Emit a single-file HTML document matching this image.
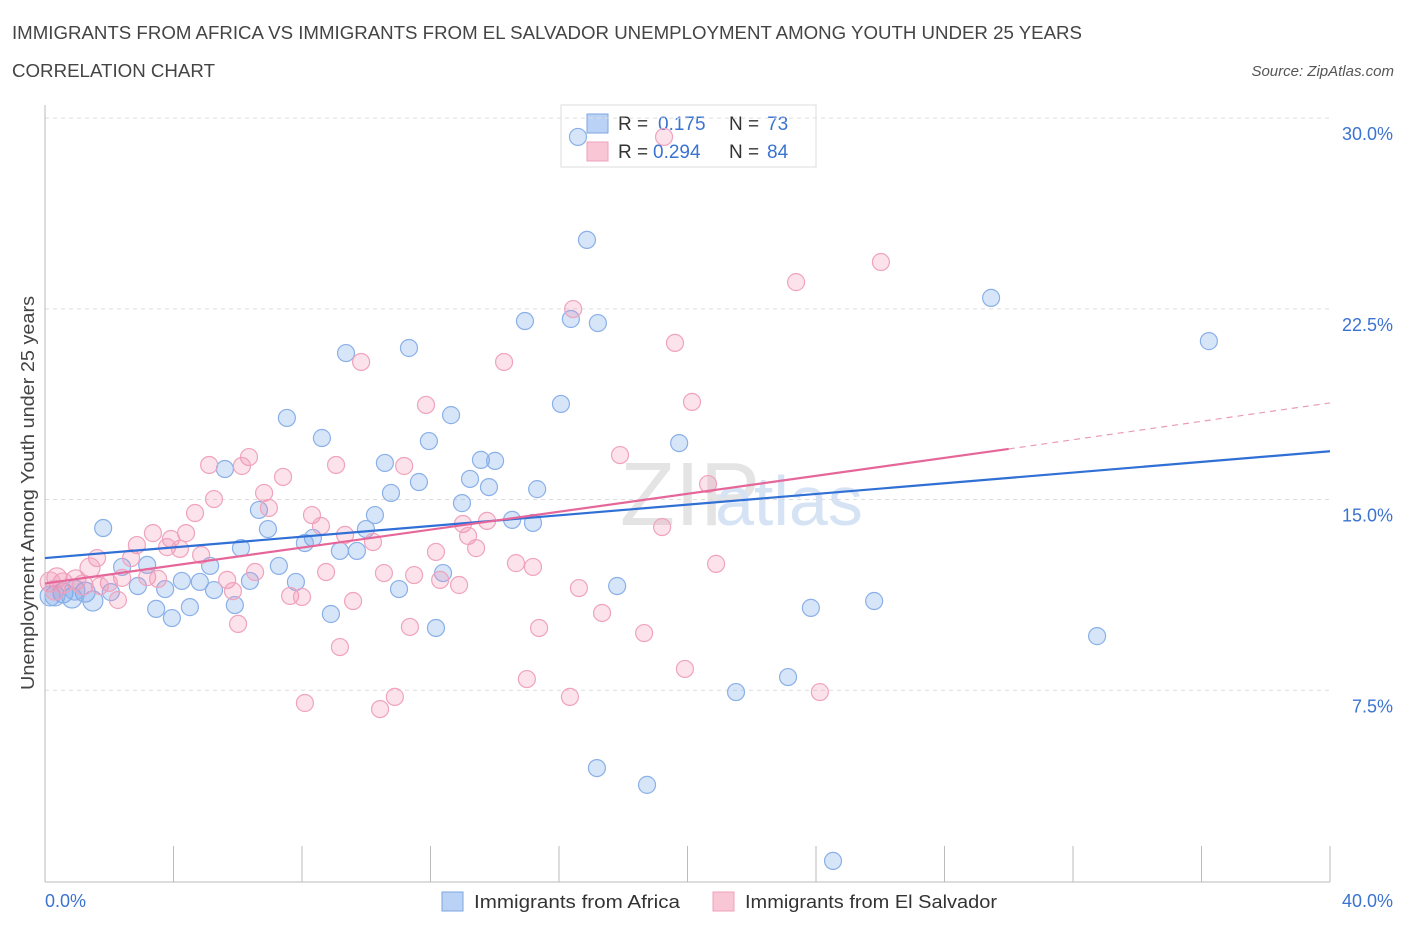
<!DOCTYPE html>
<html><head><meta charset="utf-8"><style>
body{margin:0;background:#fff;font-family:"Liberation Sans",sans-serif;}
svg text{font-family:"Liberation Sans",sans-serif;}
</style></head><body>
<svg id="chart" width="1406" height="930">
<text x="12" y="39" font-size="18" fill="#444" textLength="1070" lengthAdjust="spacingAndGlyphs">IMMIGRANTS FROM AFRICA VS IMMIGRANTS FROM EL SALVADOR UNEMPLOYMENT AMONG YOUTH UNDER 25 YEARS</text>
<text x="12" y="77" font-size="18" fill="#444" textLength="203" lengthAdjust="spacingAndGlyphs">CORRELATION CHART</text>
<text x="1394" y="76" font-size="15" fill="#555" text-anchor="end" font-style="italic">Source: ZipAtlas.com</text>
<text x="620" y="525" font-size="90" fill="#e4e4e4" font-family="Liberation Serif">ZIP</text>
<text x="715" y="525" font-size="70" fill="#d5e3f5">atlas</text>
<g>
<rect x="561" y="105" width="255" height="62" fill="#fff" stroke="#ddd"/>
<rect x="587" y="114" width="21" height="19" fill="#b9d2f5" stroke="#7ea6e0"/>
<rect x="587" y="142" width="21" height="19" fill="#f9c6d6" stroke="#eda0b9"/>
<text y="130" font-size="19" fill="#333"><tspan x="618">R =</tspan><tspan x="658" fill="#3b73d1">0.175</tspan><tspan x="729">N =</tspan><tspan x="767" fill="#3b73d1">73</tspan></text>
<text y="158" font-size="19" fill="#333"><tspan x="618">R =</tspan><tspan x="653" fill="#3b73d1">0.294</tspan><tspan x="729">N =</tspan><tspan x="767" fill="#3b73d1">84</tspan></text>
</g>
<g id="grid"></g><g id="axes"></g><g id="pts"></g><g id="lines"></g>
<text x="34" y="493" font-size="18" fill="#444" text-anchor="middle" textLength="394" lengthAdjust="spacingAndGlyphs" transform="rotate(-90 34 493)">Unemployment Among Youth under 25 years</text>
<text x="45" y="907" font-size="18" fill="#3b73d1">0.0%</text>
<text x="1393" y="907" font-size="18" fill="#3b73d1" text-anchor="end">40.0%</text>
<g>
<rect x="442" y="892" width="21" height="19" fill="#b9d2f5" stroke="#7ea6e0"/>
<text x="474" y="908" font-size="18" fill="#333" textLength="206" lengthAdjust="spacingAndGlyphs">Immigrants from Africa</text>
<rect x="713" y="892" width="21" height="19" fill="#f9c6d6" stroke="#eda0b9"/>
<text x="745" y="908" font-size="18" fill="#333" textLength="252" lengthAdjust="spacingAndGlyphs">Immigrants from El Salvador</text>
</g>
</svg>
<script>
const yTicks=[7.5,15,22.5,30];
const xTicks=[0,4,8,12,16,20,24,28,32,36,40];
const bluePx=[[578,137],[587,240],[991,298],[1209,341],[525,321],[571,319],[598,323],[346,353],[409,348],[561,404],[287,418],[451,415],[322,438],[429,441],[679,443],[385,463],[481,460],[495,461],[225,469],[419,482],[470,479],[489,487],[391,493],[537,489],[462,503],[259,510],[375,515],[103,528],[268,529],[366,529],[512,520],[533,523],[313,538],[305,543],[241,548],[340,551],[357,551],[147,565],[210,566],[279,566],[122,567],[443,573],[182,581],[200,582],[250,581],[296,582],[138,586],[165,589],[214,590],[617,586],[399,589],[111,592],[85,592],[63,593],[50,596],[72,598],[93,601],[235,605],[156,609],[190,607],[172,618],[331,614],[811,608],[874,601],[436,628],[1097,636],[736,692],[788,677],[597,768],[647,785],[833,861],[55,596],[75,590]];
const pinkPx=[[664,137],[881,262],[796,282],[573,309],[675,343],[361,362],[504,362],[692,402],[426,405],[620,455],[209,465],[249,457],[242,466],[336,465],[404,466],[283,477],[708,484],[264,493],[214,499],[269,508],[195,513],[312,515],[321,526],[153,533],[186,533],[463,524],[487,521],[468,536],[345,535],[373,542],[662,527],[171,539],[137,545],[167,547],[180,549],[476,548],[97,558],[201,555],[436,552],[131,558],[90,568],[516,563],[533,567],[716,564],[255,572],[384,573],[414,575],[326,572],[147,577],[122,578],[158,579],[227,580],[109,583],[76,580],[57,578],[100,586],[440,580],[459,585],[579,588],[233,591],[290,596],[302,597],[118,600],[353,601],[602,613],[410,627],[539,628],[238,624],[644,633],[340,647],[685,669],[527,679],[395,697],[305,703],[380,709],[570,697],[820,692],[63,583],[83,585],[50,582],[55,590]];
const blueX=bluePx.map(p=>+((p[0]-45)/1285*40).toFixed(2));
const blueY=bluePx.map(p=>+((881-p[1])/25.43).toFixed(2));
const pinkX=pinkPx.map(p=>+((p[0]-45)/1285*40).toFixed(2));
const pinkY=pinkPx.map(p=>+((881-p[1])/25.43).toFixed(2));
const blueTrend=[12.7,16.9];
const pinkTrend=[11.7,16.99,18.8];
const X=v=>45+v/40*1285, Y=v=>881-v*25.43;
const NS='http://www.w3.org/2000/svg';
function mk(t,a,par){const e=document.createElementNS(NS,t);for(const k in a)e.setAttribute(k,a[k]);document.getElementById(par).appendChild(e);return e;}
yTicks.forEach(v=>{
 const l=mk('line',{x1:45,x2:1330,y1:Y(v),y2:Y(v),stroke:'#ddd','stroke-dasharray':'4,4'},'grid');
 
 
 const t=mk('text',{x:1393,y:Y(v)+22,'font-size':18,fill:'#3b73d1','text-anchor':'end'},'grid');
 t.textContent=v.toFixed(1)+'%';
 
 
});
const ya=mk('line',{x1:45,x2:45,y1:105,y2:882,stroke:'#bbb'},'axes');


const xa=mk('line',{x1:45,x2:1330,y1:882,y2:882,stroke:'#bbb'},'axes');


xTicks.forEach(v=>{
 const t=mk('line',{x1:X(v),x2:X(v),y1:846,y2:882,stroke:'#bbb'},'axes');
 
 
});
blueX.forEach((x,i)=>{
 const c=mk('circle',{cx:X(x),cy:Y(blueY[i]),r:x<1.5?10:8.5,fill:'rgba(110,160,235,0.28)',stroke:'#8ab0e8','stroke-width':1.2},'pts');
 
 
});
pinkX.forEach((x,i)=>{
 const c=mk('circle',{cx:X(x),cy:Y(pinkY[i]),r:x<1.5?10:8.5,fill:'rgba(240,140,175,0.25)',stroke:'#f0a3bd','stroke-width':1.2},'pts');
 
 
});
const bl=mk('line',{x1:X(0),y1:Y(blueTrend[0]),x2:X(40),y2:Y(blueTrend[1]),stroke:'#2f6fd6','stroke-width':2.2},'lines');


const pl=mk('line',{x1:X(0),y1:Y(pinkTrend[0]),x2:X(30),y2:Y(pinkTrend[1]),stroke:'#e5679a','stroke-width':2.2},'lines');


const pd=mk('line',{x1:X(30),y1:Y(pinkTrend[1]),x2:X(40),y2:Y(pinkTrend[2]),stroke:'#eb9ab8','stroke-width':1.2,'stroke-dasharray':'6,5'},'lines');


</script>
</body></html>
